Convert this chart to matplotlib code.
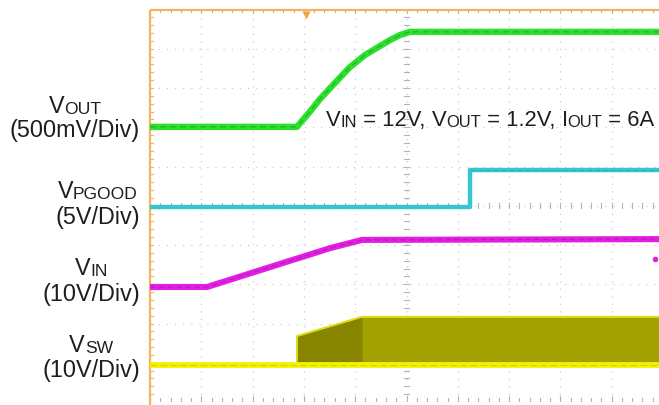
import matplotlib
matplotlib.use("Agg")
import matplotlib.pyplot as plt
import numpy as np

W, H, DPI = 659, 405, 100

# ---------------- data (oscilloscope divisions: x 0..10, y 0..10 from bottom) -------------
vout_t = [0.0, 2.865, 3.119, 3.314, 3.606, 3.899, 4.191, 4.483, 4.678, 4.873, 5.068, 10.0]
vout_y = [7.01, 7.01, 7.40, 7.72, 8.13, 8.535, 8.84, 9.07, 9.22, 9.35, 9.43, 9.43]

pgood_t = [0.0, 6.238, 6.238, 10.0]
pgood_y = [4.97, 4.97, 5.91, 5.91]

vin_t = [0.0, 1.111, 3.509, 4.133, 10.0]
vin_y = [2.93, 2.93, 3.92, 4.13, 4.15]
vin_glitch_t = [9.844]
vin_glitch_y = [3.64]

vsw_t = [0.0, 2.865, 2.865, 4.133, 10.0]
vsw_base = [0.93, 0.93, 0.93, 0.93, 0.93]
vsw_top = [0.93, 0.93, 1.68, 2.17, 2.17]

trigger_t = 3.04

label_main = ["V", "V", "V", "V"]
label_sub = ["OUT", "PGOOD", "IN", "SW"]
label_scale = ["(500mV/Div)", "(5V/Div)", "(10V/Div)", "(10V/Div)"]

annotation_parts = [("V", 0), ("IN", 1), (" = 12V, ", 0), ("V", 0), ("OUT", 1),
                    (" = 1.2V, ", 0), ("I", 0), ("OUT", 1), (" = 6A", 0)]

# ---------------- layout / style ----------------
FONT = "Liberation Sans"
TXT = "#1e1e1e"
ORANGE = "#f2b45e"
GRIDC = "#cdcdcd"
TICKC = "#b4b4b4"
label_baselines = [(113, 137), (198, 224), (275, 301), (352, 377)]
label_right = 140
LBL_MAIN, LBL_SUB = 16.8, 12.6
ANN_MAIN, ANN_SUB = 15.8, 11.9
ann_x0, ann_base = 326, 126

fig = plt.figure(figsize=(W / DPI, H / DPI), dpi=DPI)
fig.patch.set_facecolor("white")

ax_left, ax_top, div_x, div_y = 150, 9.5, 51.3, 39.25
ax = fig.add_axes([ax_left / W, (H - (ax_top + 10 * div_y)) / H,
                   10 * div_x / W, 10 * div_y / H])
ax.set_xlim(0, 10)
ax.set_ylim(0, 10)
ax.axis("off")

# grid
for i in range(1, 10):
    ax.plot([i, i], [0, 10], ls=(0, (1.0, 5.0)), color=GRIDC, lw=0.9, zorder=1)
    ax.plot([0, 10], [i, i], ls=(0, (1.0, 5.5)), color=GRIDC, lw=0.9, zorder=1)

# ticks
minor_x = np.arange(0, 10.001, 0.2)
minor_y = np.arange(0, 10.001, 0.2)
for x in minor_x:
    major = abs(x - round(x)) < 1e-6
    lx = 0.1 if major else 0.07
    ax.plot([x, x], [10, 10 - lx], color=TICKC, lw=0.8, zorder=2)
    ax.plot([x, x], [0.02, 0.02 + (0.14 if major else 0.09)], color=TICKC, lw=0.8, zorder=2, clip_on=False)
    ax.plot([x, x], [5 - 0.06, 5 + 0.06], color=TICKC, lw=0.8, zorder=2)
for y in minor_y:
    ax.plot([0, 0.05], [y, y], color=ORANGE, lw=0.8, zorder=2)
    ax.plot([5 - 0.04, 5 + 0.04], [y, y], color=TICKC, lw=0.8, zorder=2)

# frame (orange top & left)
ax.plot([0, 10], [10, 10], color=ORANGE, lw=1.6, zorder=3, clip_on=False,
        solid_capstyle="butt")
ax.plot([0, 0], [-0.2, 10], color=ORANGE, lw=1.6, zorder=3, clip_on=False,
        solid_capstyle="butt")
ax.plot([trigger_t], [9.87], marker="v", color="#eea63c", ms=6, mec="none",
        zorder=4, clip_on=False)

# VSW (yellow)
ax.fill_between(vsw_t, vsw_base, vsw_top, color="#a3a100", lw=0, zorder=3)
ramp_t = [vsw_t[2], vsw_t[3]]
ramp_top = [vsw_top[2], vsw_top[3]]
ax.fill_between(ramp_t, [vsw_base[2]] * 2, ramp_top, color="#878500", lw=0, zorder=3)
ax.plot(vsw_t[1:], vsw_top[1:], color="#dcdc10", lw=1.4, zorder=4)
ax.plot(vsw_t, vsw_base, color="#f2f200", lw=4.2, zorder=5, solid_capstyle="butt")
ax.plot(vsw_t, vsw_base, color="#b8b400", lw=0.8, ls=(0, (6, 3)), alpha=0.5, zorder=5)

# VIN (magenta)
ax.plot(vin_t, vin_y, color="#e21ee2", lw=4.4, zorder=5, solid_capstyle="butt")
ax.plot(vin_t, vin_y, color="#8a128a", lw=0.8, ls=(0, (5, 3)), alpha=0.45, zorder=5)
ax.plot(vin_glitch_t, vin_glitch_y, "o", color="#e21ee2", ms=3, zorder=5)

# VPGOOD (cyan)
ax.plot(pgood_t, pgood_y, color="#36c6d2", lw=3.2, zorder=5, solid_capstyle="butt")
ax.plot(pgood_t[2:], pgood_y[2:], color="#1a9aa8", lw=0.7, ls=(0, (5, 3)), alpha=0.5, zorder=5)

# VOUT (green)
ax.plot(vout_t, vout_y, color="#2ee02e", lw=4.6, zorder=6, solid_capstyle="butt",
        solid_joinstyle="round")
ax.plot(vout_t, vout_y, color="#138c13", lw=0.9, ls=(0, (5, 3)), alpha=0.5, zorder=6)

# ---------------- text ----------------
renderer = fig.canvas.get_renderer()


def text_width(s, size):
    t1 = fig.text(0, 0, "|" + s + "|", fontsize=size, family=FONT)
    t2 = fig.text(0, 0, "||", fontsize=size, family=FONT)
    w = t1.get_window_extent(renderer).width - t2.get_window_extent(renderer).width
    t1.remove()
    t2.remove()
    return w


def put(x, ybase, s, size):
    fig.text(x / W, 1 - ybase / H, s, fontsize=size, family=FONT, color=TXT,
             ha="left", va="baseline")


def rich(parts, x0, ybase, main, sub, draw=True):
    x = x0
    for s, is_sub in parts:
        size = sub if is_sub else main
        if draw:
            put(x, ybase + (1.0 if is_sub else 0.0), s, size)
        x += text_width(s, size)
    return x - x0


for m, sb, sc, (b1, b2) in zip(label_main, label_sub, label_scale, label_baselines):
    parts = [(m, 0), (sb, 1)]
    w1 = rich(parts, 0, 0, LBL_MAIN, LBL_SUB, draw=False)
    w2 = text_width(sc, LBL_MAIN)
    center = label_right - max(w1, w2) / 2
    rich(parts, center - w1 / 2, b1, LBL_MAIN, LBL_SUB)
    put(center - w2 / 2, b2, sc, LBL_MAIN)

rich(annotation_parts, ann_x0, ann_base, ANN_MAIN, ANN_SUB)

fig.savefig("out.png", dpi=DPI, facecolor="white")
